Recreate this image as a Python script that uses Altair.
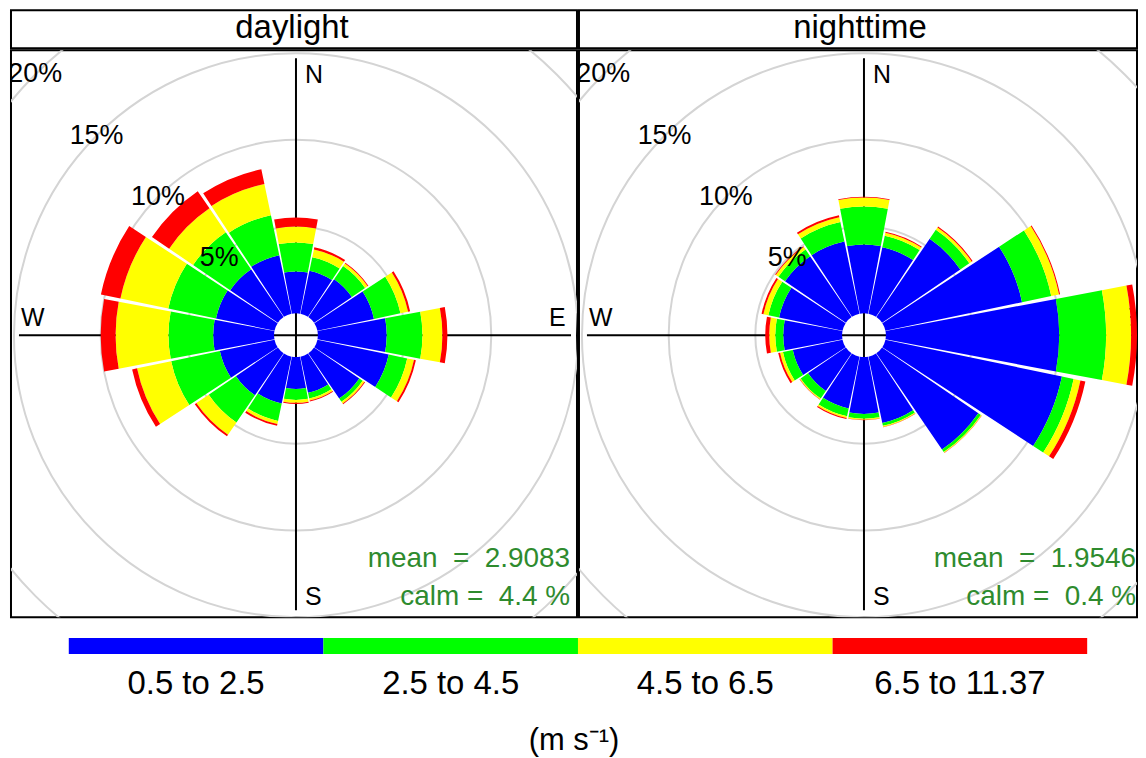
import math
import altair as alt
import numpy as np
import pandas as pd

# ---------------- data ----------------
directions = [0, 22.5, 45, 67.5, 90, 112.5, 135, 157.5,
              180, 202.5, 225, 247.5, 270, 292.5, 315, 337.5]
speed_bins = ["0.5 to 2.5", "2.5 to 4.5", "4.5 to 6.5", "6.5 to 11.37"]
bin_colors = ["#0000FF", "#00FF00", "#FFFF00", "#FF0000"]

# percentage of time per direction and speed class (daylight)
day_blue   = [2.41, 2.53, 2.64, 3.33, 3.97, 4.20, 3.16, 2.13, 1.84, 2.76, 2.93, 3.22, 3.51, 3.45, 3.33, 3.45]
day_green  = [1.67, 0.80, 0.92, 1.56, 2.06, 1.09, 0.23, 0.34, 0.63, 1.03, 1.90, 2.87, 2.58, 2.81, 2.59, 2.35]
day_yellow = [0.92, 0.46, 0.18, 0.45, 1.15, 0.40, 0.12, 0.12, 0.17, 0.18, 0.86, 2.01, 3.05, 2.82, 1.67, 1.84]
day_red    = [0.52, 0.12, 0.05, 0.12, 0.29, 0.11, 0.05, 0.05, 0.06, 0.11, 0.11, 0.29, 0.86, 1.15, 1.20, 0.87]

# nighttime
night_blue   = [3.97, 3.91, 5.46, 8.05, 10.00, 10.40, 6.72, 3.91, 3.28, 3.05, 2.64, 2.93, 3.39, 3.74, 4.25, 4.25]
night_green  = [2.18, 0.69, 0.63, 1.72, 2.70, 0.69, 0.18, 0.17, 0.28, 0.46, 0.52, 0.58, 0.46, 0.63, 0.46, 1.15]
night_yellow = [0.52, 0.17, 0.17, 0.46, 1.44, 0.40, 0.05, 0.06, 0.06, 0.11, 0.06, 0.17, 0.35, 0.29, 0.18, 0.29]
night_red    = [0.05, 0.06, 0.06, 0.06, 0.34, 0.29, 0.02, 0.02, 0.02, 0.06, 0.02, 0.11, 0.23, 0.11, 0.05, 0.11]

ring_pcts = [5, 10, 15, 20]
ring_labels = ["5%", "10%", "15%", "20%"]

panels = ["daylight", "nighttime"]
mean_texts = ["mean\u00a0\u00a0=\u00a0\u00a02.9083", "mean\u00a0\u00a0=\u00a0\u00a01.9546"]
calm_texts = ["calm =\u00a0\u00a04.4 %", "calm =\u00a0\u00a00.4 %"]

FONT = "Liberation Sans"
SECTOR = 22.5
HALF_GAP = 0.55

theta_scale = alt.Scale(type="linear", domain=[0, 360], range=[0, 2 * math.pi])
r_scale = alt.Scale(type="linear", domain=[0, 20], range=[22, 370], zero=False)


def petal_frame(bands):
    rows = []
    cum = np.zeros(len(directions))
    for name, vals in zip(speed_bins, bands):
        vals = np.array(vals)
        for i, d in enumerate(directions):
            rows.append({
                "speed": name,
                "lo": float(cum[i]),
                "hi": float(cum[i] + vals[i]),
                "t0": d - SECTOR / 2 + HALF_GAP,
                "t1": d + SECTOR / 2 - HALF_GAP,
            })
        cum = cum + vals
    return pd.DataFrame(rows)


def panel(bands, mean_t, calm_t, width, height=569, cx=286, cy=286, txt_right=562):
    dummy = pd.DataFrame({"a": [0]})
    rings = pd.DataFrame({"pct": ring_pcts, "label": ring_labels, "ang": [315] * 4})

    circles = alt.Chart(rings).mark_arc(
        filled=False, stroke="#d4d4d4", strokeWidth=2, clip=True
    ).encode(
        theta=alt.value(0), theta2=alt.value(2 * math.pi),
        radius=alt.Radius("pct:Q", scale=r_scale, stack=False),
        radius2=alt.value(0),
        x=alt.value(cx), y=alt.value(cy),
    )

    vline = alt.Chart(dummy).mark_rule(color="black", strokeWidth=2, clip=True).encode(
        x=alt.value(cx), y=alt.value(8), y2=alt.value(562))
    hline = alt.Chart(dummy).mark_rule(color="black", strokeWidth=2, clip=True).encode(
        x=alt.value(8), x2=alt.value(562), y=alt.value(cy))

    compass = []
    for letter, px, py in [("N", cx + 9, 33), ("S", cx + 9, 557), ("W", 10, 277), ("E", 540, 277)]:
        compass.append(
            alt.Chart(dummy).mark_text(font=FONT, fontSize=25, align="left",
                                       baseline="alphabetic", color="black", clip=True).encode(
                x=alt.value(px), y=alt.value(py), text=alt.value(letter)))

    petals = alt.Chart(petal_frame(bands)).mark_arc(clip=True).encode(
        theta=alt.Theta("t0:Q", scale=theta_scale, stack=False),
        theta2="t1:Q",
        radius=alt.Radius("hi:Q", scale=r_scale, stack=False),
        radius2="lo:Q",
        color=alt.Color("speed:N", scale=alt.Scale(domain=speed_bins, range=bin_colors), legend=None),
        x=alt.value(cx), y=alt.value(cy),
    )

    pct_labels = alt.Chart(rings).mark_text(
        font=FONT, fontSize=27, align="center", baseline="middle", color="black", clip=True
    ).encode(
        theta=alt.Theta("ang:Q", scale=theta_scale, stack=False),
        radius=alt.Radius("pct:Q", scale=r_scale, stack=False),
        text="label:N",
        x=alt.value(cx), y=alt.value(cy),
    )

    mean_txt = alt.Chart(dummy).mark_text(font=FONT, fontSize=28, align="right",
                                          baseline="alphabetic", color="#2E8B2E", clip=True).encode(
        x=alt.value(txt_right), y=alt.value(519), text=alt.value(mean_t))
    calm_txt = alt.Chart(dummy).mark_text(font=FONT, fontSize=28, align="right",
                                          baseline="alphabetic", color="#2E8B2E", clip=True).encode(
        x=alt.value(txt_right), y=alt.value(557), text=alt.value(calm_t))

    return alt.layer(circles, vline, hline, *compass, petals, pct_labels, mean_txt, calm_txt).properties(
        width=width, height=height)


def strip(title, width, cx):
    dummy = pd.DataFrame({"a": [0]})
    return alt.Chart(dummy).mark_text(font=FONT, fontSize=33, align="center",
                                      baseline="alphabetic", color="black").encode(
        x=alt.value(cx), y=alt.value(28), text=alt.value(title)
    ).properties(width=width, height=38)


widths = [568, 560]
day_panel = alt.vconcat(strip(panels[0], widths[0], 282),
                        panel([day_blue, day_green, day_yellow, day_red], mean_texts[0], calm_texts[0],
                              widths[0], txt_right=561),
                        spacing=0)
night_panel = alt.vconcat(strip(panels[1], widths[1], 282),
                          panel([night_blue, night_green, night_yellow, night_red], mean_texts[1], calm_texts[1],
                                widths[1], txt_right=559),
                          spacing=0)
top = alt.hconcat(day_panel, night_panel, spacing=0)

# ---------------- colour key ----------------
key_df = pd.DataFrame({"label": speed_bins})
key_scale = alt.Scale(domain=speed_bins, range=[58, 1080], paddingInner=0, paddingOuter=0)
key_bar = alt.Chart(key_df).mark_rect().encode(
    x=alt.X("label:N", scale=key_scale, axis=None),
    y=alt.value(20), y2=alt.value(36),
    color=alt.Color("label:N", scale=alt.Scale(domain=speed_bins, range=bin_colors), legend=None),
)
key_text = alt.Chart(key_df).mark_text(font=FONT, fontSize=33, align="center",
                                       baseline="alphabetic", color="black").encode(
    x=alt.X("label:N", scale=key_scale, axis=None, bandPosition=0.5),
    y=alt.value(76), text="label:N",
)
unit_text = alt.Chart(pd.DataFrame({"a": [0]})).mark_text(
    font=FONT, fontSize=31, align="center", baseline="alphabetic", color="black").encode(
    x=alt.value(565), y=alt.value(132), text=alt.value("(m s\u207b\u00b9)"))

key = alt.layer(key_bar, key_text, unit_text).properties(
    width=1126, height=138, view=alt.ViewBackground(strokeOpacity=0))

chart = alt.vconcat(top, key, spacing=0).properties(
    padding={"left": 2, "top": 0, "right": 0, "bottom": 0}
).configure_view(stroke="black", strokeWidth=2)

chart.save("out.html", embed_options={"renderer": "svg", "actions": False})
